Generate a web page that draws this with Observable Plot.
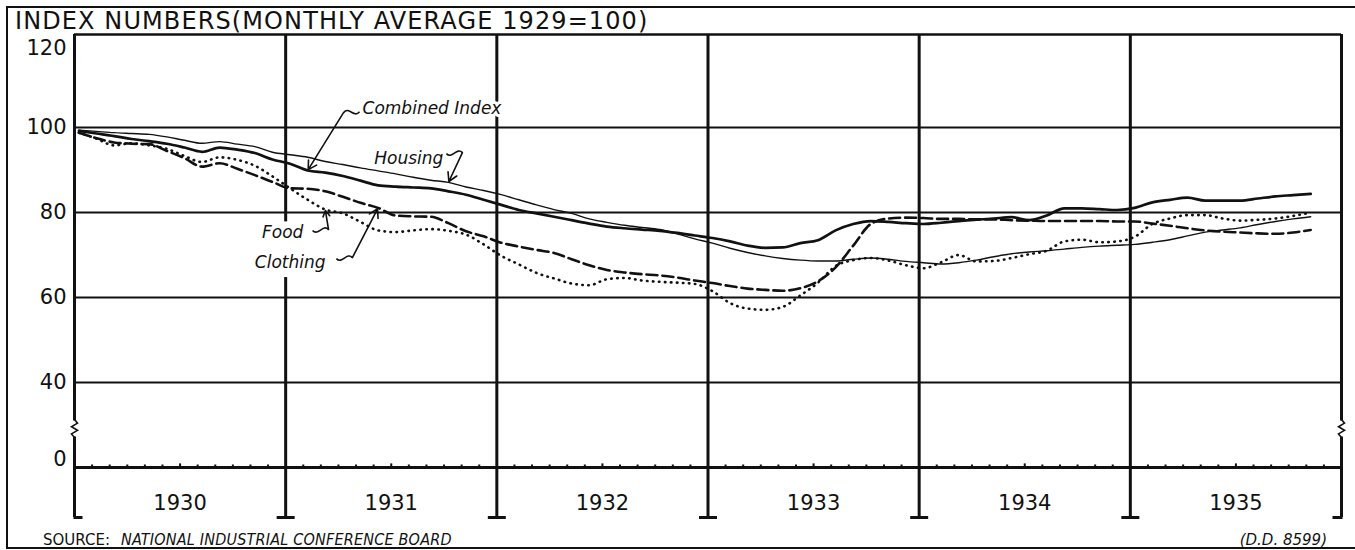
<!DOCTYPE html>
<html><head><meta charset="utf-8">
<script src="https://cdn.jsdelivr.net/npm/d3@7"></script>
<script src="https://cdn.jsdelivr.net/npm/@observablehq/plot@0.6"></script>
<style>
body{margin:0;background:#fff}
#wrap{position:relative;width:1355px;height:550px;overflow:hidden;background:#fff;color:#111;font-family:"DejaVu Sans",sans-serif}
#frame{position:absolute;left:6px;top:6px;width:1400px;height:543px;border:2px solid #111;box-sizing:border-box}
#title{position:absolute;left:15px;top:10px;font-size:24px;line-height:22px;letter-spacing:1.1px;z-index:2;white-space:nowrap}
#chart{position:absolute;left:0;top:30px;z-index:1}
#source{position:absolute;left:43px;top:531px;font-size:15px;line-height:18px;white-space:nowrap}
#source i{font-family:"DejaVu Sans Condensed","DejaVu Sans",sans-serif;font-size:16px;letter-spacing:0.2px;margin-left:11px}
#dd{position:absolute;right:28px;top:531px;font-size:15px;line-height:18px;font-style:italic;white-space:nowrap}
</style></head>
<body>
<div id="wrap">
  <div id="frame"></div>
  <div id="title">INDEX NUMBERS(MONTHLY AVERAGE 1929=100)</div>
  <div id="chart"></div>
  <div id="source">SOURCE:<i>NATIONAL INDUSTRIAL CONFERENCE BOARD</i></div>
  <div id="dd">(D.D. 8599)</div>
</div>
<script>
// ---- data (monthly, Jan 1930 .. Nov 1935) ----
const years = [1930, 1931, 1932, 1933, 1934, 1935];
const yearLabels = ["1930", "1931", "1932", "1933", "1934", "1935"];
const yTicks = [0, 40, 60, 80, 100, 120];
const seriesNames = ["Combined Index", "Housing", "Food", "Clothing"];

const combined = [99.2, 98.6, 98.0, 97.3, 96.8, 96.2, 95.3, 94.3, 95.3, 94.8,
  94.0, 92.5, 91.5, 89.9, 89.4, 88.6, 87.5, 86.4, 86.1, 85.9,
  85.7, 85.0, 84.2, 83.0, 81.8, 80.6, 79.8, 79.0, 78.2, 77.4,
  76.7, 76.3, 76.0, 75.7, 75.2, 74.6, 74.0, 73.2, 72.2, 71.7,
  71.8, 72.8, 73.5, 75.8, 77.3, 78.0, 77.8, 77.5, 77.3, 77.6,
  78.0, 78.3, 78.6, 78.9, 78.2, 79.3, 81.0, 81.0, 80.8, 80.6,
  81.1, 82.4, 83.0, 83.5, 82.8, 82.8, 82.8, 83.3, 83.8, 84.1, 84.4];

const housing = [99.4, 99.1, 98.8, 98.6, 98.4, 97.8, 97.0, 96.3, 96.7, 96.1,
  95.5, 94.2, 93.6, 93.0, 92.0, 91.3, 90.5, 89.8, 89.1, 88.3,
  87.6, 87.1, 86.0, 85.2, 84.2, 83.0, 81.8, 80.7, 79.8, 78.5,
  77.7, 77.0, 76.5, 76.0, 75.0, 73.8, 72.8, 71.6, 70.6, 69.8,
  69.2, 68.8, 68.6, 68.6, 69.0, 69.3, 69.0, 68.5, 68.2, 67.9,
  68.2, 68.8, 69.6, 70.3, 70.7, 71.0, 71.4, 71.8, 72.1, 72.3,
  72.5, 73.0, 73.6, 74.5, 75.4, 75.9, 76.4, 77.2, 77.9, 78.5, 79.0];

const food = [98.8, 97.4, 95.8, 96.3, 95.8, 95.0, 93.3, 91.9, 93.0, 92.4,
  91.0, 88.5, 85.7, 83.0, 80.7, 79.8, 77.8, 75.8, 75.4, 75.8,
  76.1, 75.7, 74.8, 72.5, 69.8, 67.8, 65.8, 64.5, 63.3, 62.9,
  64.3, 64.6, 64.0, 63.7, 63.5, 63.2, 61.5, 58.7, 57.4, 57.1,
  57.8, 60.5, 63.5, 67.4, 68.8, 69.3, 68.7, 67.6, 66.9, 68.3,
  70.0, 68.5, 68.6, 69.3, 70.2, 71.0, 73.2, 73.6, 73.0, 73.2,
  74.3, 77.3, 78.6, 79.4, 79.4, 78.6, 78.1, 78.3, 78.6, 79.2, 80.0];

const clothing = [98.8, 97.5, 96.5, 96.2, 96.1, 94.5, 92.8, 90.8, 91.6, 90.3,
  88.8, 87.2, 85.7, 85.6, 85.0, 83.7, 82.3, 81.1, 79.3, 79.1,
  79.0, 77.5, 75.6, 74.4, 72.9, 72.0, 71.2, 70.5, 69.0, 67.6,
  66.5, 65.9, 65.5, 65.2, 64.7, 64.0, 63.4, 62.7, 62.1, 61.8,
  61.6, 62.2, 63.8, 67.1, 72.2, 77.3, 78.6, 78.8, 78.7, 78.5,
  78.5, 78.4, 78.4, 78.2, 78.1, 78.0, 78.0, 78.0, 78.0, 77.9,
  77.9, 77.4, 76.9, 76.3, 75.8, 75.5, 75.3, 75.1, 75.0, 75.3, 75.9];

// ---- tables built from the arrays ----
const OFF = 0.25;                       // plotting position inside each month
const xOf = m => years[0] + (m + OFF) / 12;
// broken value axis: below 30 the scale is compressed 3:1 (0..30 drawn as 20..30)
const brk = v => v >= 30 ? v : 30 - (30 - v) / 3;
const Y_TOP = 121.9;                    // top edge of the chart box
const seriesValues = {"Combined Index": combined, "Housing": housing, "Food": food, "Clothing": clothing};
const rows = seriesNames.flatMap(k => seriesValues[k].map((v, i) => ({key: k, x: xOf(i), y: v})));
const bounds = [...years, years[years.length - 1] + 1];
const monthTicks = years.flatMap(y => d3.range(1, 12).map(k => ({x: y + k / 12, mid: k === 6})));

// annotation layout (label position, leader tail, target point on a series)
const notes = [
  {label: "Combined Index", key: "Combined Index", month: 13, lx: 1931.364, ly: 104.5, anchor: "start", tx: 1931.274, ty: 103.5, wave: "right"},
  {label: "Housing", key: "Housing", month: 21, lx: 1931.747, ly: 92.7, anchor: "end", tx: 1931.837, ty: 94.1, wave: "left"},
  {label: "Food", key: "Food", month: 14, lx: 1931.084, ly: 75.3, anchor: "end", tx: 1931.203, ty: 76.0, wave: "left"},
  {label: "Clothing", key: "Clothing", month: 17, lx: 1931.189, ly: 68.2, anchor: "end", tx: 1931.316, ty: 69.4, wave: "left"}
];
const foodNote = notes[2], clothNote = notes[3];

// ---- custom symbols (r = length in px) ----
const len = s => Math.sqrt(s / Math.PI);
const tickUp = {draw(c, s) { const r = len(s); c.moveTo(0, 0); c.lineTo(0, -r); }};
const footBoth = {draw(c, s) { const r = len(s); c.moveTo(-r, 0); c.lineTo(r, 0); }};
const footRight = {draw(c, s) { const r = len(s); c.moveTo(-1, 0); c.lineTo(r, 0); }};
const footLeft = {draw(c, s) { const r = len(s); c.moveTo(-r, 0); c.lineTo(1, 0); }};
const vseg = {draw(c, s) { const r = len(s); c.moveTo(0, -r); c.lineTo(0, r); }};
const zigzag = {draw(c, s) { const r = len(s); c.moveTo(0, -r); c.lineTo(3, -r * 0.6); c.lineTo(-3, -r * 0.2); c.lineTo(3, r * 0.2); c.lineTo(-3, r * 0.6); c.lineTo(0, r); }};
const waveRight = {draw(c, s) { const r = len(s); c.moveTo(0, 0); c.bezierCurveTo(r * 0.35, -7, r * 0.65, 6, r, -1); }};
const waveLeft = {draw(c, s) { const r = len(s); c.moveTo(-r, 1); c.bezierCurveTo(-r * 0.65, 7, -r * 0.35, -6, 0, 0); }};

const ink = "#111";
const fnt = "DejaVu Sans";

const chart = Plot.plot({
  width: 1355, height: 500,
  marginLeft: 74, marginRight: 14, marginTop: 4, marginBottom: 13,
  x: {domain: [1930, 1936], range: [74, 1341], axis: null},
  y: {domain: [brk(0), Y_TOP], range: [437, 4], axis: null},
  style: {background: "transparent", overflow: "visible", fontFamily: fnt, color: ink},
  marks: [
    Plot.ruleY(yTicks.filter(v => v > 0 && v < 120), {y: brk, stroke: ink, strokeWidth: 2}),
    Plot.ruleY([Y_TOP], {stroke: ink, strokeWidth: 2.5}),
    Plot.ruleY([0], {y: brk, stroke: ink, strokeWidth: 3}),
    Plot.ruleX(bounds, {stroke: ink, strokeWidth: 3}),
    // gap in the 1931 rule behind the Food / Clothing labels
    Plot.ruleX([bounds[1]], {y1: () => clothNote.ly - 3.5, y2: () => foodNote.ly + 2.5, stroke: "white", strokeWidth: 6}),
    // break marks on the vertical axes
    Plot.dot([bounds[0], bounds[bounds.length - 1]], {x: d => d, y: () => brk(40), dy: 46, symbol: vseg, r: 8, stroke: "white", strokeWidth: 6, fill: "none"}),
    Plot.dot([bounds[0], bounds[bounds.length - 1]], {x: d => d, y: () => brk(40), dy: 46, symbol: zigzag, r: 9, stroke: ink, strokeWidth: 1.6, fill: "none"}),
    // month ticks on the base line
    Plot.dot(monthTicks, {x: "x", y: () => brk(0), symbol: tickUp, r: d => d.mid ? 15 : 8, stroke: ink, strokeWidth: 2, fill: "none"}),
    // feet at the bottom of the year rules
    Plot.dot([bounds[0]], {x: d => d, frameAnchor: "bottom", symbol: footRight, r: 8, stroke: ink, strokeWidth: 3, fill: "none"}),
    Plot.dot(bounds.slice(1, -1), {x: d => d, frameAnchor: "bottom", symbol: footBoth, r: 9, stroke: ink, strokeWidth: 3, fill: "none"}),
    Plot.dot([bounds[bounds.length - 1]], {x: d => d, frameAnchor: "bottom", symbol: footLeft, r: 9, stroke: ink, strokeWidth: 3, fill: "none"}),
    // y labels
    Plot.text(yTicks.filter(v => v > 0 && v < 120), {x: () => bounds[0], y: brk, text: d => String(d), dx: -8, textAnchor: "end", fontSize: 21, fill: ink}),
    Plot.text([120], {x: () => bounds[0], y: brk, text: d => String(d), dx: -8, dy: 6, textAnchor: "end", fontSize: 21, fill: ink}),
    Plot.text([0], {x: () => bounds[0], y: brk, text: d => String(d), dx: -8, dy: -8, textAnchor: "end", fontSize: 21, fill: ink}),
    // year labels
    Plot.text(years, {x: d => d + 0.5, text: (d, i) => yearLabels[i], frameAnchor: "bottom", dy: -8, fontSize: 21, fill: ink}),
    // series
    Plot.line(rows.filter(d => d.key === "Housing"), {x: "x", y: d => brk(d.y), stroke: ink, strokeWidth: 1.4, curve: "monotone-x"}),
    Plot.line(rows.filter(d => d.key === "Combined Index"), {x: "x", y: d => brk(d.y), stroke: ink, strokeWidth: 2.7, curve: "monotone-x"}),
    Plot.line(rows.filter(d => d.key === "Clothing"), {x: "x", y: d => brk(d.y), stroke: ink, strokeWidth: 2.6, strokeDasharray: "11,5", curve: "monotone-x"}),
    Plot.line(rows.filter(d => d.key === "Food"), {x: "x", y: d => brk(d.y), stroke: ink, strokeWidth: 2.6, strokeDasharray: "0.5,5.5", strokeLinecap: "round", curve: "monotone-x"}),
    // annotations
    Plot.text(notes.filter(d => d.anchor === "start"), {x: "lx", y: d => brk(d.ly), text: "label", textAnchor: "start", fontSize: 17, fontStyle: "italic", fill: ink, stroke: "white", strokeWidth: 6, paintOrder: "stroke"}),
    Plot.text(notes.filter(d => d.anchor === "end"), {x: "lx", y: d => brk(d.ly), text: "label", textAnchor: "end", fontSize: 17, fontStyle: "italic", fill: ink, stroke: "white", strokeWidth: 6, paintOrder: "stroke"}),
    Plot.dot(notes.filter(d => d.wave === "right"), {x: "tx", y: d => brk(d.ty), symbol: waveRight, r: 16, stroke: ink, strokeWidth: 1.6, fill: "none"}),
    Plot.dot(notes.filter(d => d.wave === "left"), {x: "tx", y: d => brk(d.ty), symbol: waveLeft, r: 16, stroke: ink, strokeWidth: 1.6, fill: "none"}),
    Plot.arrow(notes, {x1: "tx", y1: d => brk(d.ty), x2: d => xOf(d.month), y2: d => brk(seriesValues[d.key][d.month]), stroke: ink, strokeWidth: 1.6, headLength: 9, insetEnd: 1})
  ]
});
document.getElementById("chart").appendChild(chart);
</script>
</body></html>
